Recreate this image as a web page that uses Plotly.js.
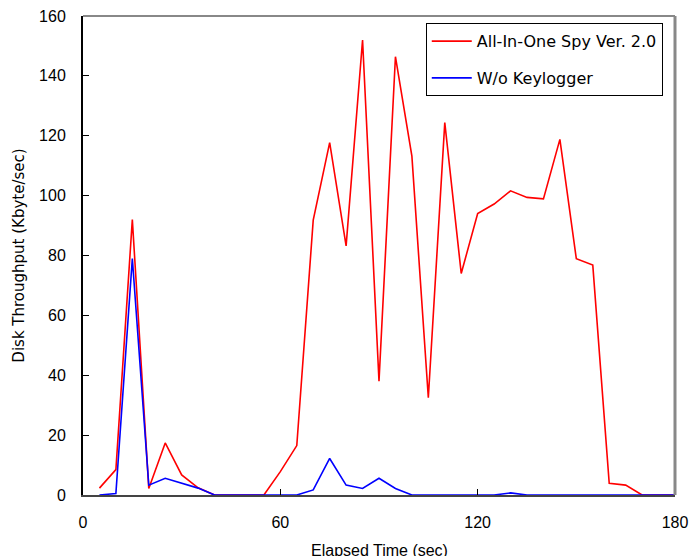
<!DOCTYPE html>
<html>
<head>
<meta charset="utf-8">
<script src="https://cdn.plot.ly/plotly-3.0.1.min.js"></script>
<style>html,body{margin:0;padding:0;background:#fff;}#chart{width:689px;height:556px;}</style>
</head>
<body>
<div id="chart"></div>
<script>
const timeSec = [5,10,15,20,25,30,35,40,45,50,55,60,65,70,75,80,85,90,95,100,105,110,115,120,125,130,135,140,145,150,155,160,165,170,175,180];
const spyName = "All-In-One Spy Ver. 2.0";
const spyValues = [2.3,8.5,92,2.2,17.4,6.7,2.4,0,0,0,0,7.8,16.5,91.8,117.7,83.2,152,38,146.4,113.2,32.5,124.4,74,94,97.2,101.6,99.4,98.9,118.8,78.9,76.8,3.9,3.3,0,0,0];
const noKlName = "W/o Keylogger";
const noKlValues = [0,0.5,79,3.3,5.6,4,2.3,0,0,0,0,0,0,1.7,12.2,3.3,2.2,5.6,2.2,0,0,0,0,0,0,0.7,0,0,0,0,0,0,0,0,0,0];
const xTicks = [0,60,120,180];
const yTicks = [0,20,40,60,80,100,120,140,160];
const xTitle = "Elapsed Time (sec)";
const yTitle = "Disk Throughput (Kbyte/sec)";

const font = "Liberation Sans, Arial, sans-serif";
const wideFont = "DejaVu Sans, sans-serif";
const data = [
  {x: timeSec, y: spyValues, name: spyName, type: "scatter", mode: "lines",
   line: {color: "#ff0000", width: 1.6}, legendgroup: "a"},
  {x: timeSec, y: noKlValues, name: noKlName, type: "scatter", mode: "lines",
   line: {color: "#0000ff", width: 1.6}, legendgroup: "b"}
];
const layout = {
  width: 689, height: 556,
  margin: {l: 83, r: 14, t: 16, b: 61},
  paper_bgcolor: "#fff", plot_bgcolor: "#fff",
  font: {family: font, size: 16, color: "#000"},
  showlegend: true,
  legend: {x: 0.579, xanchor: "left", y: 0.985, yanchor: "top",
    bgcolor: "#fff", bordercolor: "#000", borderwidth: 1,
    font: {family: wideFont, size: 16, color: "#000"},
    traceorder: "grouped", tracegroupgap: 13, itemwidth: 40},
  xaxis: {range: [0, 180], tickvals: xTicks, ticktext: xTicks.map(String),
    showgrid: false, zeroline: false, showline: true, linecolor: "#444", linewidth: 2,
    ticks: "inside", ticklen: 6, tickcolor: "#000", tickwidth: 1,
    ticklabelstandoff: 12, tickfont: {size: 16}},
  yaxis: {range: [0, 160], tickvals: yTicks, ticktext: yTicks.map(String),
    showgrid: false, zeroline: false, showline: true, linecolor: "#000", linewidth: 2,
    ticks: "inside", ticklen: 6, tickcolor: "#000", tickwidth: 1,
    ticklabelstandoff: 12, tickfont: {size: 16},
    title: {text: yTitle, font: {family: wideFont, size: 15}, standoff: 11}},
  shapes: [
    {type: "line", xref: "paper", yref: "paper", x0: 0, x1: 1, y0: 1, y1: 1, line: {color: "#888", width: 2}},
    {type: "line", xref: "paper", yref: "paper", x0: 1, x1: 1, y0: 0, y1: 1, line: {color: "#888", width: 3}}
  ],
  annotations: [
    {text: xTitle, xref: "paper", yref: "paper", x: 0.5, y: -0.094, xanchor: "center", yanchor: "top",
     showarrow: false, font: {size: 16}}
  ]
};
Plotly.newPlot("chart", data, layout, {displayModeBar: false, staticPlot: true});
</script>
</body>
</html>
